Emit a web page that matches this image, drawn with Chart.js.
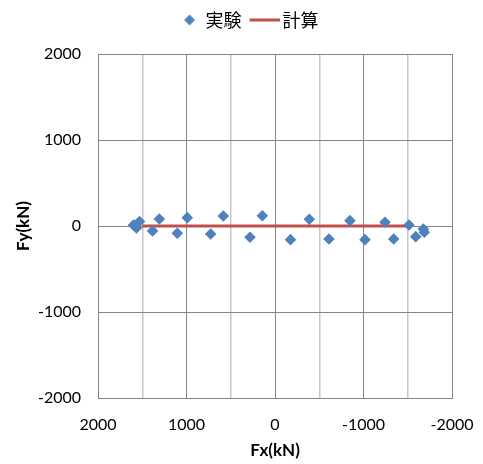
<!DOCTYPE html>
<html>
<head>
<meta charset="utf-8">
<script src="https://cdn.jsdelivr.net/npm/chart.js@4/dist/chart.umd.min.js"></script>
<style>
  html, body { margin: 0; padding: 0; background: #fff; }
  #wrap { width: 483px; height: 464px; }
</style>
</head>
<body>
<div id="wrap"><canvas id="c" width="483" height="464"></canvas></div>
<script>
// ---- data ----
const seriesNames = ['実験', '計算'];
const expX = [1599, 1565, 1531, 1384, 1307, 1104, 991, 727, 584, 283, 143, -175, -388, -610, -847, -1017, -1243, -1341, -1514, -1590, -1676, -1687];
const expY = [12, -23, 52, -58, 81, -85, 97, -93, 116, -131, 120, -159, 78, -151, 62, -159, 43, -151, 12, -124, -35, -73];
const calcX = [1500, -1500];
const calcY = [0, 0];
const xTicks = [2000, 1000, 0, -1000, -2000];
const yTicks = [2000, 1000, 0, -1000, -2000];
const xTitle = 'Fx(kN)';
const yTitle = 'Fy(kN)';

const expColor = '#4F81BD';
const calcColor = '#C0504D';

const expData = expX.map((x, i) => ({ x: x, y: expY[i] }));
const calcData = calcX.map((x, i) => ({ x: x, y: calcY[i] }));

const tickFont = { family: 'Lato, "Liberation Sans", sans-serif', size: 16 };
const titleFont = { family: 'Lato, "Liberation Sans", sans-serif', size: 17, weight: 'bold' };

// legend symbol images
function makeDiamond() {
  const c = document.createElement('canvas');
  c.width = 30; c.height = 14;
  const g = c.getContext('2d');
  const cx = 19, cy = 7, r = 5.4;
  g.fillStyle = expColor;
  g.beginPath();
  g.moveTo(cx, cy - r); g.lineTo(cx + r, cy); g.lineTo(cx, cy + r); g.lineTo(cx - r, cy);
  g.closePath(); g.fill();
  return c;
}
function makeLine() {
  const c = document.createElement('canvas');
  c.width = 34; c.height = 4;
  const g = c.getContext('2d');
  g.fillStyle = calcColor;
  g.fillRect(4, 0.5, 30, 3);
  return c;
}
const legendSymbols = [makeDiamond(), makeLine()];

const legendHeight = {
  id: 'legendHeight',
  beforeInit(chart) {
    const orig = chart.legend.fit;
    chart.legend.fit = function () {
      orig.call(this);
      this.height = 53;
    };
  }
};

new Chart(document.getElementById('c'), {
  type: 'scatter',
  data: {
    datasets: [
      {
        label: seriesNames[0],
        data: expData,
        backgroundColor: expColor,
        borderColor: expColor,
        borderWidth: 0,
        pointStyle: 'rectRot',
        pointRadius: 5.8,
        pointHoverRadius: 5.8
      },
      {
        label: seriesNames[1],
        data: calcData,
        showLine: true,
        borderColor: calcColor,
        backgroundColor: calcColor,
        borderWidth: 3,
        pointRadius: 0,
        pointHoverRadius: 0,
        pointStyle: 'line'
      }
    ]
  },
  options: {
    responsive: false,
    animation: false,
    layout: { padding: { left: 10, right: 0, top: 1, bottom: 0 } },
    plugins: {
      tooltip: { enabled: false },
      legend: {
        position: 'top',
        labels: {
          usePointStyle: true,
          pointStyleWidth: 22,
          boxHeight: 10,
          padding: 10,
          color: '#000',
          font: { family: '"Noto Sans CJK JP", sans-serif', size: 18 },
          generateLabels(chart) {
            const items = Chart.defaults.plugins.legend.labels.generateLabels(chart);
            items.forEach((it, i) => { it.pointStyle = legendSymbols[i]; it.rotation = 0; });
            return items;
          }
        }
      }
    },
    scales: {
      x: {
        type: 'linear',
        reverse: true,
        min: -2000,
        max: 2000,
        afterFit(s) { s.height = 66; },
        afterBuildTicks(s) {
          const t = [];
          for (let v = -2000; v <= 2000; v += 500) t.push({ value: v });
          s.ticks = t;
        },
        ticks: {
          autoSkip: false,
          maxRotation: 0,
          padding: 17,
          color: '#000',
          font: tickFont,
          callback: (v) => xTicks.includes(v) ? String(v) : ''
        },
        grid: {
          drawTicks: false,
          color: (ctx) => (ctx.tick && ctx.tick.value % 1000 === 0) ? '#868686' : '#c6c6c6',
          lineWidth: (ctx) => (ctx.tick && ctx.tick.value % 1000 === 0) ? 1 : 1.5
        },
        border: { color: '#868686', width: 1 },
        title: {
          display: true,
          text: xTitle,
          color: '#000',
          font: titleFont,
          padding: { top: 0, bottom: 3 }
        }
      },
      y: {
        type: 'linear',
        position: 'left',
        min: -2000,
        max: 2000,
        afterFit(s) { s.width = 88; },
        afterBuildTicks(s) { s.ticks = yTicks.map(v => ({ value: v })); },
        ticks: {
          padding: 17,
          color: '#000',
          font: tickFont,
          callback: (v) => String(v)
        },
        grid: { drawTicks: false, color: '#868686', lineWidth: 1 },
        border: { color: '#868686', width: 1 },
        title: {
          display: true,
          text: yTitle,
          color: '#000',
          font: titleFont,
          padding: { top: 3, bottom: 0 }
        }
      },
      yRight: {
        type: 'linear',
        position: 'right',
        display: true,
        min: -2000,
        max: 2000,
        afterFit(s) { s.width = 31; },
        ticks: { display: false },
        grid: { display: false, drawTicks: false },
        border: { display: false }
      }
    }
  },
  plugins: [legendHeight]
});
</script>
</body>
</html>
